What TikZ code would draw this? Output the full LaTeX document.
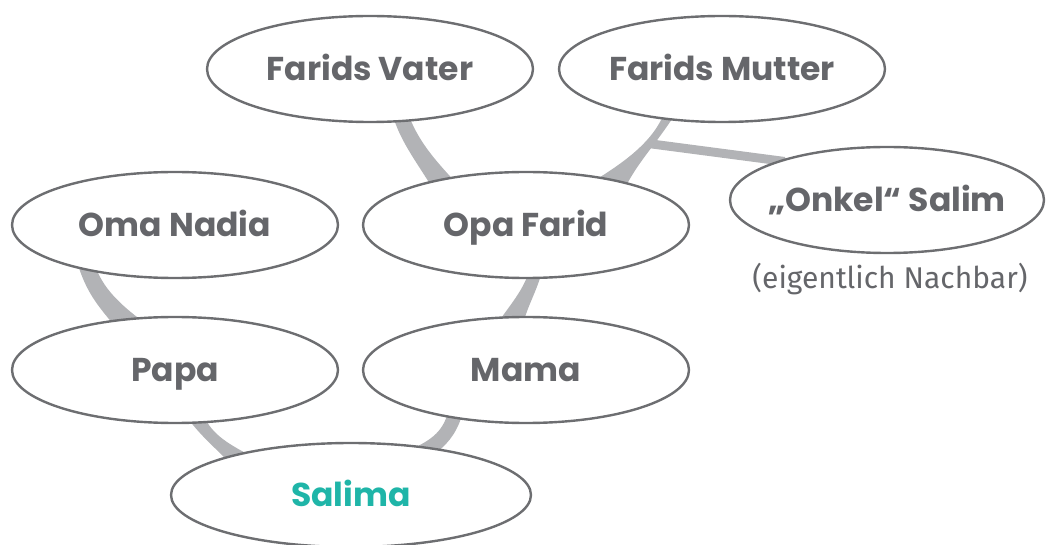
\documentclass[tikz,border=0pt]{standalone}
\usepackage{fontspec}
\setmainfont{Poppins}
\newfontfamily\notefont{Fira Sans}
\usetikzlibrary{shapes.geometric}
\definecolor{ringgray}{HTML}{6D6E71}
\definecolor{textgray}{HTML}{65666A}
\definecolor{conngray}{HTML}{B2B3B6}
\definecolor{teal}{HTML}{1FB5A8}
\begin{document}
\begin{tikzpicture}[x=1pt,y=-1pt,
  person/.style={ellipse,draw=ringgray,line width=2.4pt,fill=white,inner ysep=0pt,inner xsep=-40pt,
    minimum width=326pt,minimum height=106pt,text=textgray,
    font=\fontsize{33}{36}\selectfont\bfseries,text height=23pt,text depth=0pt},
  conn/.style={fill=conngray}]
\useasboundingbox (0,0) rectangle (1047,545);
% connectors (bands)
\fill[conn] (393,116) .. controls (400,140) and (415,160) .. (430,184) -- (457,184) .. controls (440,165) and (420,145) .. (409,116) -- cycle;
\fill[conn] (674,116) .. controls (655,145) and (640,160) .. (627,184) -- (589,184) .. controls (620,165) and (650,145) .. (663,116) -- cycle;
\fill[conn] (648,139) -- (785,157) -- (785,166) -- (648,148) -- cycle;
\fill[conn] (79,268) .. controls (88,295) and (100,308) .. (113,324) -- (146,324) .. controls (125,308) and (105,292) .. (96,268) -- cycle;
\fill[conn] (542,272) .. controls (535,295) and (528,305) .. (523,324) -- (497,324) .. controls (510,305) and (522,292) .. (529,272) -- cycle;
\fill[conn] (186,416) .. controls (200,435) and (212,445) .. (225,458) -- (255,458) .. controls (230,445) and (212,435) .. (204,416) -- cycle;
\fill[conn] (404,452) .. controls (430,442) and (443,432) .. (448,412) -- (463,412) .. controls (458,430) and (450,442) .. (437,452) -- cycle;
% persons
\node[person] (vater) at (370,69) {Farids Vater};
\node[person] (mutter) at (722,69) {Farids Mutter};
\node[person,minimum width=314pt] (onkel) at (887,200) {„Onkel“ Salim};
\node[person] (oma) at (175,225) {Oma Nadia};
\node[person] (opa) at (526,225) {Opa Farid};
\node[person] (papa) at (175,370) {Papa};
\node[person] (mama) at (526,370) {Mama};
\node[person,minimum width=360pt,minimum height=104pt,text=teal] (salima) at (351,495) {Salima};
\node[font=\notefont\fontsize{30}{33}\selectfont,text=textgray] (note) at (890,279) {(eigentlich Nachbar)};
\end{tikzpicture}
\end{document}
